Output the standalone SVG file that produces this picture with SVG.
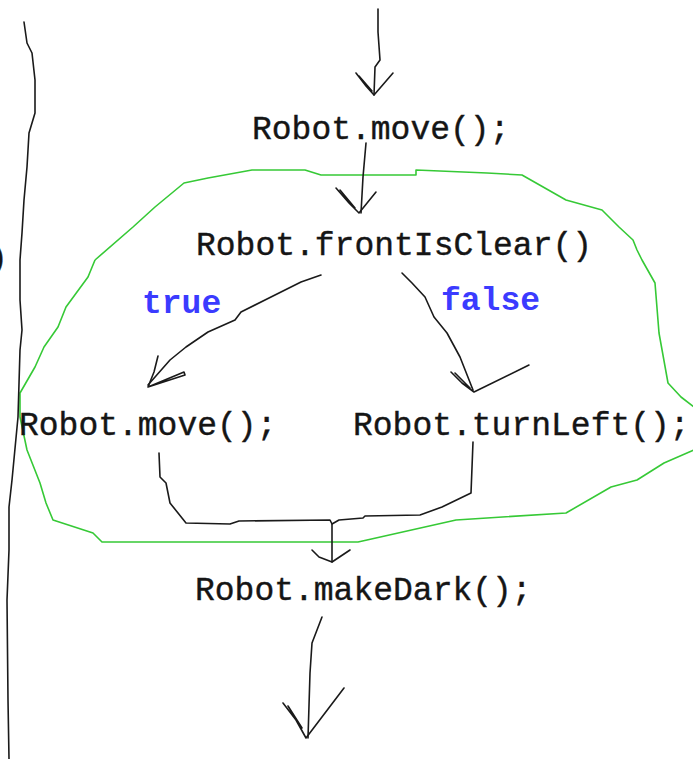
<svg xmlns="http://www.w3.org/2000/svg" width="693" height="759" viewBox="0 0 693 759">
  <style>
    .code { font-family: "Liberation Mono", "Courier New", monospace; font-size: 33px; fill: #151515; stroke: #151515; stroke-width: 0.4; }
    .cond { font-family: "Liberation Mono", "Courier New", monospace; font-size: 33px; font-weight: bold; fill: #3b3bff; }
    .pen { fill: none; stroke: #1a1a1a; stroke-width: 1.6; stroke-linejoin: round; stroke-linecap: round; }
    .loop { fill: none; stroke: #36c936; stroke-width: 1.6; stroke-linejoin: round; }
  </style>
  <rect width="693" height="759" fill="#ffffff"/>

  <!-- hand-drawn outline around the if/else block -->
  <path id="block-outline" class="loop" d="M95,260 L133,227 L155,207 L184,183 L208,178 L252,170 L305,170 L321,175 L416,175 L416,170 L487,173 L522,175 L566,200 L602,210 L619,227 L633,240 L637,250 L642,260 L655,283 L659,333 L668,383 L681,397 L694,407 L702,430 L694,450 L664,463 L637,480 L611,487 L566,513 L487,518 L456,520 L367,540 L358,542 L102,542 L93,533 L53,520 L46,503 L40,483 L27,450 L20,417 L20,393 L35,367 L44,347 L58,327 L66,307 L88,277 L95,260"/>

  <!-- connectors -->
  <g id="connectors">
    <!-- outer loop line on the left -->
    <path class="pen" d="M24,22 L27,43 L32,53 L35,80 L35,113 L29,133 L27,167 L24,200 L22,233 L20,260 L20,300 L22,330 L20,350 L18,417 L12,480 L9,507 L9,550 L7,600 L8,700 L9,759"/>
    <!-- into Robot.move() -->
    <path class="pen" d="M378,9 L378,32 L380,60 L375,67 L374,95"/>
    <path class="pen" d="M356,73 L366,86 L374,95 L393,73 M359,76 L372,91"/>
    <!-- move -> frontIsClear -->
    <path class="pen" d="M366,143 L363,177 L361,213"/>
    <path class="pen" d="M336,188 L349,203 L359,213 L376,192 M340,190 L355,208"/>
    <!-- true branch -->
    <path class="pen" d="M321,275 L301,282 L265,300 L241,312 L235,320 L208,332 L186,347 L170,360 L148,385"/>
    <path class="pen" d="M158,356 L154,372 L148,387 L184,372 L185,375 L148,387"/>
    <!-- false branch -->
    <path class="pen" d="M402,273 L412,283 L425,297 L434,317 L447,333 L460,357 L473,390"/>
    <path class="pen" d="M451,372 L462,383 L474,392 L529,365 M455,373 L470,388"/>
    <!-- merge -->
    <path class="pen" d="M159,453 L160,477 L166,483 L170,503 L186,523 L230,524 L239,521 L330,520 L332,524 L339,520 L363,518 L365,516 L420,515 L442,507 L471,493 L473,442"/>
    <path class="pen" d="M332,524 L332,562"/>
    <path class="pen" d="M312,550 L319,557 L332,562 L350,550"/>
    <!-- out of makeDark -->
    <path class="pen" d="M322,617 L312,643 L310,673 L308,738"/>
    <path class="pen" d="M283,703 L296,720 L306,738 L344,688 M288,706 L302,728"/>
  </g>

  <!-- statements -->
  <g id="stray-paren"><text class="code" x="-12" y="268">)</text></g>
  <g id="move-1"><text class="code" x="252" y="139">Robot.move();</text></g>
  <g id="front-is-clear"><text class="code" x="196" y="255">Robot.frontIsClear()</text></g>
  <g id="label-true"><text class="cond" x="142" y="313">true</text></g>
  <g id="label-false"><text class="cond" x="441" y="310">false</text></g>
  <g id="move-2"><text class="code" x="19" y="435">Robot.move();</text></g>
  <g id="turn-left"><text class="code" x="353" y="435">Robot.turnLeft();</text></g>
  <g id="make-dark"><text class="code" x="195" y="600">Robot.makeDark();</text></g>
</svg>
